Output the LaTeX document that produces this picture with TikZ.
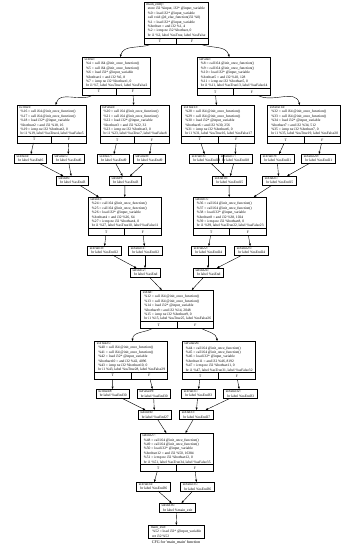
\documentclass[tikz,border=0pt]{standalone}
\usepackage{fontspec}
\setmainfont{Liberation Serif}
\usetikzlibrary{arrows.meta,calc}

\newcommand\cfgi{\hspace*{1.5pt}}
% body of a block with two calls, one load and a bit test
\newcommand\cfgbody[8]{%
  \cfgi\%#1 = call i64 @init\_once\_function()\\
  \cfgi\%#2 = call i64 @init\_once\_function()\\
  \cfgi\%#3 = load i32* @input\_variable\\
  \cfgi\%bothset#5 = and i32 \%#3, #6\\
  \cfgi\%#4 = icmp ne i32 \%bothset#5, 0\\
  \cfgi br i1 \%#4, label \%#7, label \%#8}
% T / F row under a block
\newcommand\tfrow[1]{%
  \path let \p1=($(#1.south east)-(#1.south west)$) in
    node[tf,minimum width=0.5*\x1,anchor=north west] (#1-T) at (#1.south west) {T}
    node[tf,minimum width=0.5*\x1,anchor=north east] (#1-F) at (#1.south east) {F};}

\begin{document}
\begin{tikzpicture}[
  x=1pt,y=-1pt,
  blk/.style={draw,line width=0.4pt,align=left,anchor=north,outer sep=0pt,
              inner xsep=2.5pt,inner ysep=1.1pt,font=\fontsize{3.6}{4.4}\selectfont},
  tf/.style={draw,line width=0.4pt,inner sep=0pt,outer sep=0pt,minimum height=6.5pt,
             font=\fontsize{3.6}{4.4}\selectfont},
  a/.style={-{Triangle[length=2.4pt,width=1.9pt]},line width=0.4pt}]
\useasboundingbox[fill=white] (0,0) rectangle (346,545);

\node[blk] (mainentry) at (176,2) {main\_entry:\\
  \cfgi store i32 \%input, i32* @input\_variable\\
  \cfgi\%0 = load i32* @input\_variable\\
  \cfgi call void @d\_else\_function(i32 \%0)\\
  \cfgi\%1 = load i32* @input\_variable\\
  \cfgi\%bothset = and i32 \%1, 4\\
  \cfgi\%2 = icmp ne i32 \%bothset, 0\\
  \cfgi br i1 \%2, label \%ssTrue, label \%ssFalse};
\tfrow{mainentry}

\node[blk] (ssTrue)  at (116,57)   {ssTrue:\\\cfgbody{4}{5}{6}{7}{1}{8}{ssTrue1}{ssFalse2}};
\tfrow{ssTrue}
\node[blk] (ssFalse) at (233.5,57) {ssFalse:\\\cfgbody{8}{9}{10}{11}{5}{128}{ssTrue13}{ssFalse14}};
\tfrow{ssFalse}

\node[blk] (ssTrue1)   at (51.5,105)  {ssTrue1:\\\cfgbody{16}{17}{18}{19}{2}{16}{ssTrue4}{ssFalse5}};
\tfrow{ssTrue1}
\node[blk] (ssFalse2)  at (134.5,105) {ssFalse2:\\\cfgbody{20}{21}{22}{23}{3}{32}{ssTrue7}{ssFalse8}};
\tfrow{ssFalse2}
\node[blk] (ssTrue13)  at (218,105)   {ssTrue13:\\\cfgbody{28}{29}{30}{31}{6}{256}{ssTrue16}{ssFalse17}};
\tfrow{ssTrue13}
\node[blk] (ssFalse14) at (304,105)   {ssFalse14:\\\cfgbody{32}{33}{34}{35}{7}{512}{ssTrue19}{ssFalse20}};
\tfrow{ssFalse14}

\node[blk] (ssTrue4)   at (30,154)  {ssTrue4:\\\cfgi br label \%ssEnd6};
\node[blk] (ssFalse5)  at (68,154)  {ssFalse5:\\\cfgi br label \%ssEnd6};
\node[blk] (ssTrue7)   at (113,154) {ssTrue7:\\\cfgi br label \%ssEnd9};
\node[blk] (ssFalse8)  at (149,154) {ssFalse8:\\\cfgi br label \%ssEnd9};
\node[blk] (ssTrue16)  at (206,154) {ssTrue16:\\\cfgi br label \%ssEnd18};
\node[blk] (ssFalse17) at (235,154) {ssFalse17:\\\cfgi br label \%ssEnd18};
\node[blk] (ssTrue19)  at (277,154) {ssTrue19:\\\cfgi br label \%ssEnd21};
\node[blk] (ssFalse20) at (318,154) {ssFalse20:\\\cfgi br label \%ssEnd21};

\node[blk] (ssEnd6)  at (72,176)  {ssEnd6:\\\cfgi br label \%ssEnd3};
\node[blk] (ssEnd9)  at (125,176) {ssEnd9:\\\cfgi br label \%ssEnd3};
\node[blk] (ssEnd18) at (229,176) {ssEnd18:\\\cfgi br label \%ssEnd15};
\node[blk] (ssEnd21) at (279,176) {ssEnd21:\\\cfgi br label \%ssEnd15};

\node[blk] (ssEnd3)  at (124.5,197) {ssEnd3:\\\cfgbody{24}{25}{26}{27}{4}{64}{ssTrue10}{ssFalse11}};
\tfrow{ssEnd3}
\node[blk] (ssEnd15) at (229.5,197) {ssEnd15:\\\cfgbody{36}{37}{38}{39}{8}{1024}{ssTrue22}{ssFalse23}};
\tfrow{ssEnd15}

\node[blk] (ssTrue10)  at (104,246) {ssTrue10:\\\cfgi br label \%ssEnd12};
\node[blk] (ssFalse11) at (145,246) {ssFalse11:\\\cfgi br label \%ssEnd12};
\node[blk] (ssTrue22)  at (208,246) {ssTrue22:\\\cfgi br label \%ssEnd24};
\node[blk] (ssFalse23) at (251,246) {ssFalse23:\\\cfgi br label \%ssEnd24};
\node[blk] (ssEnd12) at (145,268) {ssEnd12:\\\cfgi br label \%ssEnd};
\node[blk] (ssEnd24) at (208,268) {ssEnd24:\\\cfgi br label \%ssEnd};

\node[blk] (ssEnd) at (177,290) {ssEnd:\\\cfgbody{12}{13}{14}{15}{9}{2048}{ssTrue25}{ssFalse26}};
\tfrow{ssEnd}

\node[blk] (ssTrue25)  at (131,341)   {ssTrue25:\\\cfgbody{40}{41}{42}{43}{10}{4096}{ssTrue28}{ssFalse29}};
\tfrow{ssTrue25}
\node[blk] (ssFalse26) at (218.5,341) {ssFalse26:\\\cfgbody{44}{45}{46}{47}{11}{8192}{ssTrue31}{ssFalse32}};
\tfrow{ssFalse26}

\node[blk] (ssTrue28)  at (112.5,389) {ssTrue28:\\\cfgi br label \%ssEnd30};
\node[blk] (ssFalse29) at (153.5,389) {ssFalse29:\\\cfgi br label \%ssEnd30};
\node[blk] (ssTrue31)  at (198,389)   {ssTrue31:\\\cfgi br label \%ssEnd33};
\node[blk] (ssFalse32) at (240,389)   {ssFalse32:\\\cfgi br label \%ssEnd33};
\node[blk] (ssEnd30) at (154.5,410) {ssEnd30:\\\cfgi br label \%ssEnd27};
\node[blk] (ssEnd33) at (196,410)   {ssEnd33:\\\cfgi br label \%ssEnd27};

\node[blk] (ssEnd27) at (176.5,433) {ssEnd27:\\\cfgbody{48}{49}{50}{51}{12}{16384}{ssTrue34}{ssFalse35}};
\tfrow{ssEnd27}

\node[blk] (ssTrue34)  at (153,482) {ssTrue34:\\\cfgi br label \%ssEnd36};
\node[blk] (ssFalse35) at (197,482) {ssFalse35:\\\cfgi br label \%ssEnd36};
\node[blk] (ssEnd36)   at (177,503) {ssEnd36:\\\cfgi br label \%main\_exit};
\node[blk] (mainexit)  at (176,525) {main\_exit:\\
  \cfgi\%52 = load i32* @input\_variable\\
  \cfgi ret i32 \%52};
\node[font=\fontsize{4}{5}\selectfont,anchor=south,inner sep=0.5pt] (cap) at (176,545)
  {CFG for \textquotesingle main\_main\textquotesingle\ function};

% curved branches
\draw[a] (mainentry-T) to[out=-160,in=75] (ssTrue);
\draw[a] (mainentry-F) to[out=-20,in=105] (ssFalse);
\draw[a] (ssTrue-T) to[out=-150,in=75] (ssTrue1);
\draw[a] (ssFalse-F) to[out=-30,in=105] (ssFalse14);
\draw[a] (ssEnd-T) to[out=-150,in=85] (ssTrue25);
\draw[a] (ssEnd-F) to[out=-30,in=95] (ssFalse26);
% straight edges
\foreach \u/\v in {ssTrue-F/ssFalse2,ssFalse-T/ssTrue13,
    ssTrue1-T/ssTrue4,ssTrue1-F/ssFalse5,ssFalse2-T/ssTrue7,ssFalse2-F/ssFalse8,
    ssTrue13-T/ssTrue16,ssTrue13-F/ssFalse17,ssFalse14-T/ssTrue19,ssFalse14-F/ssFalse20,
    ssTrue4/ssEnd6,ssFalse5/ssEnd6,ssTrue7/ssEnd9,ssFalse8/ssEnd9,
    ssTrue16/ssEnd18,ssFalse17/ssEnd18,ssTrue19/ssEnd21,ssFalse20/ssEnd21,
    ssEnd6/ssEnd3,ssEnd9/ssEnd3,ssEnd18/ssEnd15,ssEnd21/ssEnd15,
    ssEnd3-T/ssTrue10,ssEnd3-F/ssFalse11,ssEnd15-T/ssTrue22,ssEnd15-F/ssFalse23,
    ssTrue10/ssEnd12,ssFalse11/ssEnd12,ssTrue22/ssEnd24,ssFalse23/ssEnd24,
    ssEnd12/ssEnd,ssEnd24/ssEnd,
    ssTrue25-T/ssTrue28,ssTrue25-F/ssFalse29,ssFalse26-T/ssTrue31,ssFalse26-F/ssFalse32,
    ssTrue28/ssEnd30,ssFalse29/ssEnd30,ssTrue31/ssEnd33,ssFalse32/ssEnd33,
    ssEnd30/ssEnd27,ssEnd33/ssEnd27,
    ssEnd27-T/ssTrue34,ssEnd27-F/ssFalse35,
    ssTrue34/ssEnd36,ssFalse35/ssEnd36,ssEnd36/mainexit}
  \draw[a] (\u) -- (\v);
\end{tikzpicture}
\end{document}
